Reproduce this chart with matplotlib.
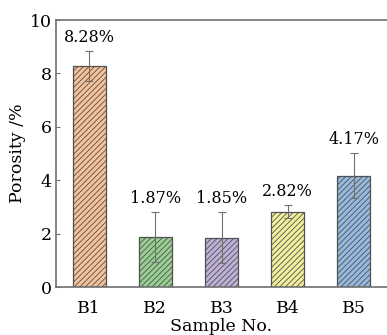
import matplotlib
matplotlib.use("Agg")
import matplotlib.pyplot as plt
import numpy as np

plt.rcParams['font.family'] = ['DejaVu Serif']
plt.rcParams['hatch.linewidth'] = 0.6
plt.rcParams['hatch.color'] = '#4a4a4a'

samples = ['B1', 'B2', 'B3', 'B4', 'B5']
porosity = [8.28, 1.87, 1.85, 2.82, 4.17]
errors = [0.56, 0.93, 0.95, 0.24, 0.84]
labels = ['8.28%', '1.87%', '1.85%', '2.82%', '4.17%']
colors = ['#f7c299', '#98d092', '#bfb0d8', '#f3ef9c', '#96b9e2']

fig = plt.figure(figsize=(3.87, 3.35), dpi=100)
ax = fig.add_axes([0.145, 0.143, 0.855, 0.797])

x = np.arange(len(samples))
ax.bar(x, porosity, width=0.5, color=colors, edgecolor='#505050',
       linewidth=0.9, hatch='//////', zorder=2)
ax.errorbar(x, porosity, yerr=errors, fmt='none', ecolor='#707070',
            elinewidth=0.8, capsize=3, capthick=0.8, zorder=3)

# value labels above each bar
for xi, v, e, lab in zip(x, porosity, errors, labels):
    ax.text(xi, v + e + 0.2, lab, ha='center', va='bottom', fontsize=11.5)

ax.set_xlim(-0.5, 4.5)
ax.set_ylim(0, 10)
ax.set_yticks([0, 2, 4, 6, 8, 10])
ax.set_xticks(x)
ax.set_xticklabels(samples)
ax.tick_params(axis='y', direction='in', length=3, labelsize=12.5, color='#707070', pad=3)
ax.tick_params(axis='x', length=0, labelsize=12.5, pad=9)

for s in ['left', 'bottom', 'top']:
    ax.spines[s].set_color('#707070')
    ax.spines[s].set_linewidth(1.2)
ax.spines['right'].set_visible(False)

ax.set_xlabel('Sample No.', fontsize=12.5, labelpad=1)
ax.set_ylabel('Porosity /%', fontsize=12.5, labelpad=3)

fig.savefig('out.png', dpi=100)
